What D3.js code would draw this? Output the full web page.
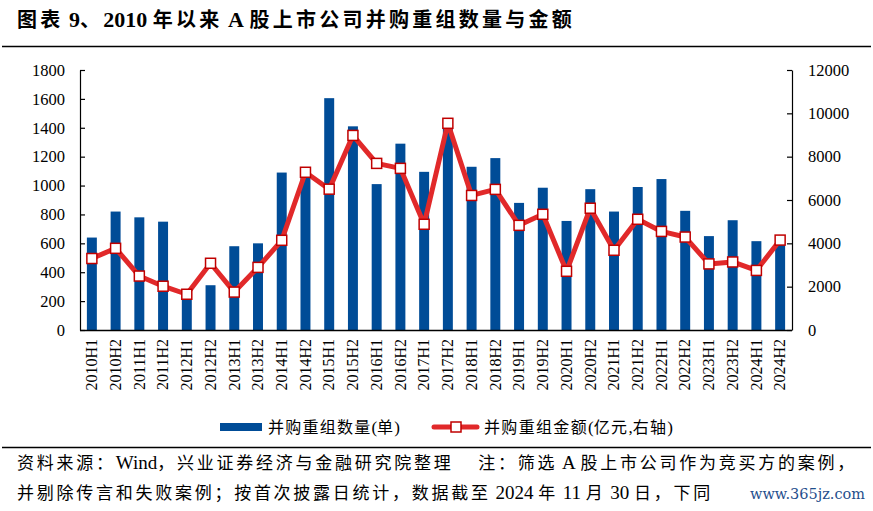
<!DOCTYPE html>
<html><head><meta charset="utf-8">
<script src="https://cdn.jsdelivr.net/npm/d3@7/dist/d3.min.js"></script>
<style>
body{margin:0;background:#fff;}
svg{display:block;}
</style></head>
<body><svg id="chart" width="873" height="511"></svg>
<script>
const categories = ["2010H1","2010H2","2011H1","2011H2","2012H1","2012H2","2013H1","2013H2","2014H1","2014H2","2015H1","2015H2","2016H1","2016H2","2017H1","2017H2","2018H1","2018H2","2019H1","2019H2","2020H1","2020H2","2021H1","2021H2","2022H1","2022H2","2023H1","2023H2","2024H1","2024H2"];
const dealCount = [640,820,780,750,220,310,580,600,1090,1080,1605,1410,1010,1290,1095,1400,1130,1190,880,985,755,975,820,990,1045,825,650,760,615,600];
const dealAmount = [3300,3770,2490,2020,1650,3080,1750,2890,4140,7280,6500,8980,7690,7460,4880,9540,6210,6490,4830,5340,2710,5620,3680,5110,4550,4290,3050,3140,2750,4150];
const leftTicks = [0,200,400,600,800,1000,1200,1400,1600,1800];
const rightTicks = [0,2000,4000,6000,8000,10000,12000];
const titleText = "图表 9、2010 年以来 A 股上市公司并购重组数量与金额";
const legendCount = "并购重组数量(单)";
const legendAmount = "并购重组金额(亿元,右轴)";
const footer1 = "资料来源：Wind，兴业证券经济与金融研究院整理　 注：筛选 A 股上市公司作为竞买方的案例，";
const footer2 = "并剔除传言和失败案例；按首次披露日统计，数据截至 2024 年 11 月 30 日，下同";
const watermark = "www.365jz.com";

const svg = d3.select("#chart");
const serif = "'Liberation Serif','Times New Roman',serif";
const cjk = "'Noto Sans CJK SC','Liberation Serif',sans-serif";
const BLUE = "#004C97", RED = "#E1292A", MRED = "#C00000";

// mixed text: ASCII runs in serif, CJK runs in CJK font; CJK letter-spacing fitted to target width
function mixedText(xp, yp, str, opts){
  const t = svg.append("text").attr("x",xp).attr("y",yp).attr("dy","0.36em")
    .attr("font-weight",opts.bold?"bold":"normal").attr("fill","#000");
  const runs = str.match(/[\x20-\x7E]+|[^\x20-\x7E]+/g);
  const cjkSpans = [];
  let nCjk = 0;
  runs.forEach(r=>{
    const ascii = /^[\x20-\x7E]+$/.test(r);
    const s = t.append("tspan").attr("font-family",ascii?serif:cjk)
      .attr("font-size",ascii?opts.latinSize:opts.cjkSize)
      .text(ascii ? r.replace(/ /g,"\u00A0") : r);
    if(!ascii){cjkSpans.push(s); nCjk += r.length;}
  });
  if(opts.width){
    const w = t.node().getComputedTextLength();
    const ls = (opts.width - w)/nCjk;
    cjkSpans.forEach(s=>s.attr("letter-spacing",ls));
  }
  return t;
}

const m = {left:80, right:792, top:70, bottom:330};
const x = d3.scaleBand().domain(categories).range([m.left, m.right]).paddingInner(0.58).paddingOuter(0.29);
const yL = d3.scaleLinear().domain([0,1800]).range([m.bottom, m.top]);
const yR = d3.scaleLinear().domain([0,12000]).range([m.bottom, m.top]);

// title
mixedText(17, 21, titleText, {bold:true, cjkSize:20, latinSize:22, width:558});
svg.append("line").attr("x1",2).attr("x2",871).attr("y1",46.5).attr("y2",46.5).attr("stroke","#000").attr("stroke-width",1.5);

// bars
svg.append("g").selectAll("rect").data(categories).join("rect")
  .attr("x",d=>x(d)).attr("width",x.bandwidth())
  .attr("y",(d,i)=>yL(dealCount[i])).attr("height",(d,i)=>m.bottom-yL(dealCount[i]))
  .attr("fill",BLUE);

// axes
const axL = svg.append("g").attr("transform",`translate(${m.left},0)`)
  .call(d3.axisLeft(yL).tickValues(leftTicks).tickSizeInner(-5).tickSizeOuter(0).tickPadding(15).tickFormat(d3.format("d")));
const axR = svg.append("g").attr("transform",`translate(${m.right},0)`)
  .call(d3.axisRight(yR).tickValues(rightTicks).tickSizeInner(-5).tickSizeOuter(0).tickPadding(16).tickFormat(d3.format("d")));
[axL,axR].forEach(a=>{
  a.select(".domain").attr("stroke","#000").attr("stroke-width",1.2);
  a.selectAll(".tick line").attr("stroke","#000").attr("stroke-width",1.2);
  a.selectAll("text").attr("font-family",serif).attr("font-size",16.5).attr("fill","#000");
});
const axB = svg.append("g").attr("transform",`translate(0,${m.bottom})`)
  .call(d3.axisBottom(x).tickSize(0).tickPadding(0));
axB.select(".domain").attr("stroke","#000").attr("stroke-width",1.5).attr("d",`M${m.left},0.5H${m.right}`);
axB.selectAll(".tick text").attr("font-family",serif).attr("font-size",16).attr("fill","#000")
  .attr("text-anchor","end").attr("transform","rotate(-90)").attr("x",-9).attr("y",0).attr("dy","0.33em");

// line
const cx = d => x(d)+x.bandwidth()/2;
const line = d3.line().x((d,i)=>cx(categories[i])).y(d=>yR(d));
svg.append("path").datum(dealAmount).attr("d",line).attr("fill","none").attr("stroke",RED)
  .attr("stroke-width",5).attr("stroke-linejoin","round");
svg.append("g").selectAll("rect").data(dealAmount).join("rect")
  .attr("x",(d,i)=>cx(categories[i])-5).attr("y",d=>yR(d)-5).attr("width",10).attr("height",10)
  .attr("fill","#fff").attr("stroke",MRED).attr("stroke-width",1.5);

// legend
const ly = 427;
svg.append("rect").attr("x",220).attr("y",ly-4).attr("width",42).attr("height",8).attr("fill",BLUE);
mixedText(268, ly, legendCount, {cjkSize:16, latinSize:17, width:132});
svg.append("line").attr("x1",434).attr("x2",477).attr("y1",ly).attr("y2",ly).attr("stroke",RED).attr("stroke-width",5).attr("stroke-linecap","round");
svg.append("rect").attr("x",451).attr("y",ly-5).attr("width",10).attr("height",10).attr("fill","#fff").attr("stroke",MRED).attr("stroke-width",1.5);
mixedText(484, ly, legendAmount, {cjkSize:16, latinSize:17, width:189});

// footer
svg.append("line").attr("x1",2).attr("x2",871).attr("y1",447.5).attr("y2",447.5).attr("stroke","#000").attr("stroke-width",1.5);
mixedText(17, 463, footer1, {cjkSize:17, latinSize:19, width:840});
mixedText(17, 493, footer2, {cjkSize:17, latinSize:19, width:696});
svg.append("text").attr("x",750).attr("y",494).attr("dy","0.36em").attr("font-family","'DejaVu Serif',serif").attr("font-size",15)
  .attr("fill","#1F4E8C").attr("textLength",115).attr("lengthAdjust","spacingAndGlyphs").text(watermark);
</script>
</body></html>
